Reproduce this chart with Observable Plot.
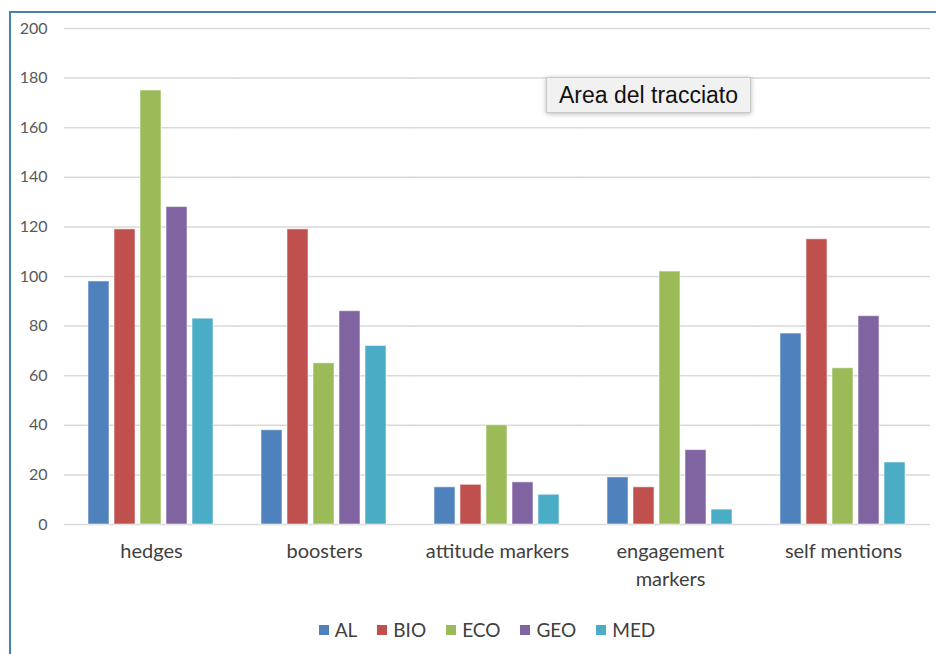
<!DOCTYPE html>
<html>
<head>
<meta charset="utf-8">
<script src="https://cdn.jsdelivr.net/npm/d3@7"></script>
<script src="https://cdn.jsdelivr.net/npm/@observablehq/plot@0.6"></script>
<style>
  html, body { margin: 0; padding: 0; background: #fff; }
  #wrap { position: relative; width: 936px; height: 654px; overflow: hidden; font-family: Lato, "Open Sans", sans-serif; }
  #borderTop { position: absolute; left: 9px; top: 11px; width: 927px; height: 2px; background: #4a7ebb; }
  #borderLeft { position: absolute; left: 9px; top: 11px; width: 2px; height: 643px; background: #4a7ebb; }
  #chart { position: absolute; left: 0; top: 0; }
  #legend { position: absolute; left: 0; top: 618px; width: 936px; display: flex; justify-content: center; padding-left: 38px; box-sizing: border-box; font-size: 19px; color: #404040; }
  .item { display: flex; align-items: center; margin: 0 10px; }
  .sw { width: 10px; height: 10px; margin-right: 6px; }
  #tip { position: absolute; left: 546px; top: 77px; width: 205px; height: 36px; background: #f1f1f1; border: 1px solid #c9c9c9; box-shadow: 0 1px 5px rgba(0,0,0,0.28); box-sizing: border-box; font-family: "Liberation Sans", Arial, sans-serif; font-size: 23px; color: #111; display: flex; align-items: center; justify-content: center; }
</style>
</head>
<body>
<div id="wrap">
  <div id="chart"></div>
  <div id="borderTop"></div>
  <div id="borderLeft"></div>
  <div id="legend"></div>
  <div id="tip">Area del tracciato</div>
</div>
<script>
const categories = ["hedges", "boosters", "attitude markers", "engagement\nmarkers", "self mentions"];
const series = ["AL", "BIO", "ECO", "GEO", "MED"];
const AL  = [98, 38, 15, 19, 77];
const BIO = [119, 119, 16, 15, 115];
const ECO = [175, 65, 40, 102, 63];
const GEO = [128, 86, 17, 30, 84];
const MED = [83, 72, 12, 6, 25];
const yTicks = [0, 20, 40, 60, 80, 100, 120, 140, 160, 180, 200];
const colors = ["#4f81bd", "#c0504d", "#9bbb59", "#8064a2", "#4bacc6"];

const valuesBySeries = [AL, BIO, ECO, GEO, MED];
const data = [];
categories.forEach((c, i) => {
  series.forEach((s, j) => {
    data.push({category: c, series: s, value: valuesBySeries[j][i]});
  });
});

const chart = Plot.plot({
  width: 936,
  height: 600,
  marginLeft: 63,
  marginRight: 5,
  marginTop: 28,
  marginBottom: 76,
  style: {fontFamily: "Lato, 'Open Sans', sans-serif", background: "transparent"},
  fx: {domain: categories, paddingInner: 0.26, paddingOuter: 0.13, axis: null, label: null},
  x: {domain: series, paddingInner: 0.19, paddingOuter: 0, axis: null},
  y: {domain: [0, 200], axis: null},
  color: {domain: series, range: colors},
  marks: [
    Plot.gridY(yTicks, {stroke: "#d9d9d9", strokeOpacity: 1, strokeWidth: 1.5, insetLeft: -23, insetRight: -23}),
    Plot.axisY(yTicks, {tickSize: 0, tickPadding: 40, fontSize: 16, color: "#595959", label: null}),
    Plot.barY(data, {fx: "category", x: "series", y: "value", fill: "series", stroke: "white", strokeOpacity: 0.55, strokeWidth: 1}),
    Plot.axisFx({anchor: "bottom", tickSize: 0, tickPadding: 14, fontSize: 20, lineHeight: 1.4, color: "#404040", label: null})
  ]
});
document.getElementById("chart").appendChild(chart);

const legend = document.getElementById("legend");
series.forEach((s, i) => {
  const item = document.createElement("div");
  item.className = "item";
  const sw = document.createElement("div");
  sw.className = "sw";
  sw.style.background = colors[i];
  const t = document.createElement("span");
  t.textContent = s;
  item.appendChild(sw);
  item.appendChild(t);
  legend.appendChild(item);
});
</script>
</body>
</html>
